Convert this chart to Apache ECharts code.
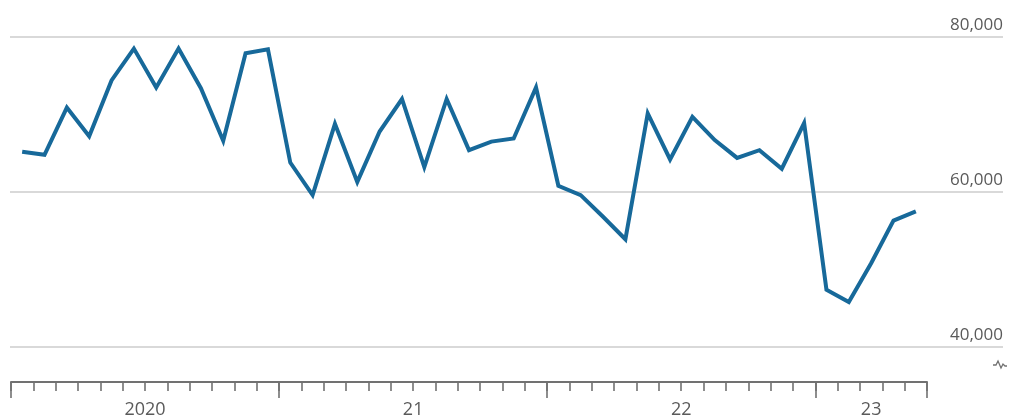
<!DOCTYPE html>
<html>
<head>
    <meta charset="UTF-8">
    <title>ECharts</title>
    <script src="https://cdn.jsdelivr.net/npm/echarts@6/dist/echarts.min.js"></script>
    <style>
        html, body { margin: 0; padding: 0; width: 100%; height: 100%; background: #fff; }
        #main { width: 1015px; height: 419px; }
    </style>
</head>
<body>
    <div id="main"></div>
    <script type="text/javascript">
        // months Jan 2020 .. May 2023
        var months = [
            '2020-01','2020-02','2020-03','2020-04','2020-05','2020-06','2020-07','2020-08','2020-09','2020-10','2020-11','2020-12',
            '2021-01','2021-02','2021-03','2021-04','2021-05','2021-06','2021-07','2021-08','2021-09','2021-10','2021-11','2021-12',
            '2022-01','2022-02','2022-03','2022-04','2022-05','2022-06','2022-07','2022-08','2022-09','2022-10','2022-11','2022-12',
            '2023-01','2023-02','2023-03','2023-04','2023-05'
        ];
        var values = [
            65200, 64800, 70900, 67200, 74400, 78500, 73500, 78500, 73400, 66600, 77900, 78400,
            63800, 59600, 68800, 61300, 67800, 72000, 63200, 72000, 65400, 66500, 66900, 73500,
            60800, 59600, 56800, 53900, 70150, 64200, 69700, 66700, 64400, 65400, 63000, 68900,
            47400, 45800, 50800, 56300, 57500
        ];
        // year labels sit in the middle of each year's span (in month units)
        var yearLabelPos = { 6: '2020', 18: '21', 30: '22', 38.5: '23' };
        var yTicks = [40000, 60000, 80000];

        var axisGray = '#717171';
        var textGray = '#5a5a5a';
        var fontFam = '"Open Sans", "Noto Sans", sans-serif';

        var myChart = echarts.init(document.getElementById('main'));

        var option = {
            animation: false,
            grid: [
                { left: 11, right: 88, top: 37, bottom: 72 },
                { left: 10, right: 12, top: 37, bottom: 72 }
            ],
            xAxis: [
                {
                    type: 'category', gridIndex: 0, data: months, position: 'bottom', offset: 35,
                    boundaryGap: true,
                    axisLine: { show: true, lineStyle: { color: axisGray, width: 2 } },
                    axisTick: { show: true, interval: 0, length: 9, lineStyle: { color: axisGray, width: 1.6 } },
                    axisLabel: { show: false },
                    splitLine: { show: false }
                },
                {
                    type: 'category', gridIndex: 0, data: months, position: 'bottom', offset: 35,
                    boundaryGap: true,
                    axisLine: { show: false },
                    axisTick: {
                        show: true,
                        interval: function (index) { return index % 12 === 0; },
                        length: 16, lineStyle: { color: axisGray, width: 1.6 }
                    },
                    axisLabel: { show: false },
                    splitLine: { show: false }
                },
                {
                    type: 'value', gridIndex: 0, position: 'bottom', offset: 35,
                    min: 0, max: months.length, interval: 0.5,
                    axisLine: { show: false },
                    axisTick: { show: false },
                    splitLine: { show: false },
                    axisLabel: {
                        margin: 19, color: textGray, fontSize: 18, fontFamily: fontFam,
                        showMinLabel: true, showMaxLabel: true,
                        formatter: function (v) { return yearLabelPos[v] || ''; }
                    }
                },
                { type: 'value', gridIndex: 1, show: false }
            ],
            yAxis: [
                { type: 'value', gridIndex: 0, min: 40000, max: 80000, show: false },
                {
                    type: 'value', gridIndex: 1, position: 'right',
                    min: yTicks[0], max: yTicks[yTicks.length - 1], interval: 20000,
                    axisLine: { show: false },
                    axisTick: { show: false },
                    splitLine: { lineStyle: { color: '#d9d9d9', width: 2 } },
                    axisLabel: {
                        inside: true, margin: 0, color: textGray, fontSize: 17, fontFamily: fontFam,
                        verticalAlign: 'bottom', padding: [0, 0, 3, 0],
                        formatter: function (v) { return v.toLocaleString('en-US'); }
                    }
                }
            ],
            graphic: [
                {
                    type: 'polyline',
                    shape: { points: [[993, 365], [996, 365], [998, 361], [1001, 368], [1003, 364], [1005, 366], [1007, 366]] },
                    style: { stroke: axisGray, lineWidth: 1.3, fill: null }
                }
            ],
            series: [
                {
                    type: 'line', xAxisIndex: 0, yAxisIndex: 0,
                    data: values,
                    symbol: 'none',
                    lineStyle: { color: '#17699a', width: 4, join: 'miter' },
                    z: 5
                }
            ]
        };

        myChart.setOption(option);
    </script>
</body>
</html>
